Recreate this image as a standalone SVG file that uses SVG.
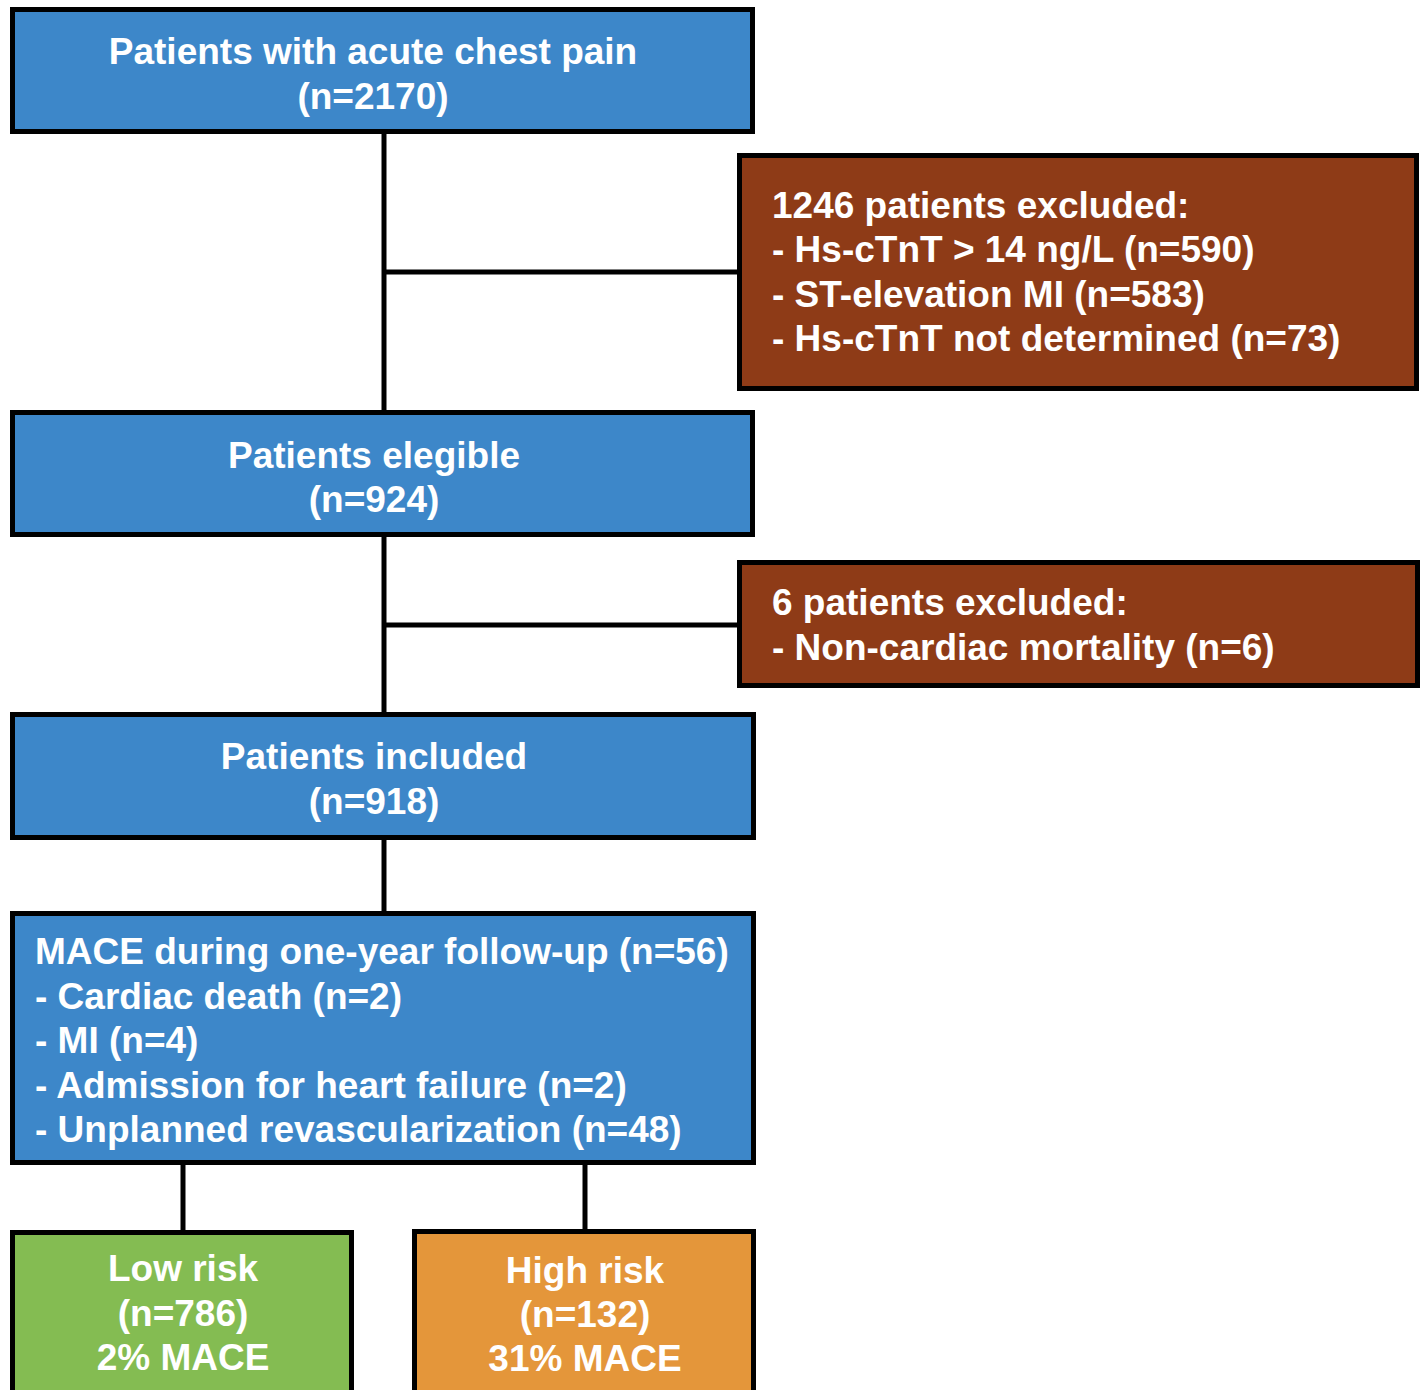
<svg xmlns="http://www.w3.org/2000/svg" width="1424" height="1390" viewBox="0 0 1424 1390">
<style>
.box{stroke:#000;stroke-width:5}
.blue{fill:#3D87C9}
.brown{fill:#8E3B17}
.green{fill:#84BC52}
.orange{fill:#E4963A}
text{font-family:"Liberation Sans",Arial,sans-serif;font-weight:bold;font-size:37px;fill:#fff}
.c{text-anchor:middle}
.conn{stroke:#000;stroke-width:5;fill:none}
</style>
<rect width="1424" height="1390" fill="#fff"/>
<g id="connectors">
<line class="conn" x1="384" y1="134" x2="384" y2="410"/>
<line class="conn" x1="384" y1="272" x2="738" y2="272"/>
<line class="conn" x1="384" y1="537" x2="384" y2="712"/>
<line class="conn" x1="384" y1="625" x2="738" y2="625"/>
<line class="conn" x1="384" y1="840" x2="384" y2="911"/>
<line class="conn" x1="183" y1="1165" x2="183" y2="1231"/>
<line class="conn" x1="585" y1="1165" x2="585" y2="1230"/>
</g>
<g id="n1">
<rect class="box blue" x="12.5" y="9.5" width="740" height="122"/>
<text class="c" x="373" y="64">Patients with acute chest pain</text>
<text class="c" x="373" y="109">(n=2170)</text>
</g>
<g id="ex1">
<rect class="box brown" x="739.5" y="155.5" width="677" height="233"/>
<text x="772" y="218">1246 patients excluded:</text>
<text x="772" y="262">- Hs-cTnT &gt; 14 ng/L (n=590)</text>
<text x="772" y="307">- ST-elevation MI (n=583)</text>
<text x="772" y="351">- Hs-cTnT not determined (n=73)</text>
</g>
<g id="n2">
<rect class="box blue" x="12.5" y="412.5" width="740" height="122"/>
<text class="c" x="374" y="468">Patients elegible</text>
<text class="c" x="374" y="512">(n=924)</text>
</g>
<g id="ex2">
<rect class="box brown" x="739.5" y="562.5" width="678" height="123"/>
<text x="772" y="615">6 patients excluded:</text>
<text x="772" y="660">- Non-cardiac mortality (n=6)</text>
</g>
<g id="n3">
<rect class="box blue" x="12.5" y="714.5" width="741" height="123"/>
<text class="c" x="374" y="769">Patients included</text>
<text class="c" x="374" y="814">(n=918)</text>
</g>
<g id="n4">
<rect class="box blue" x="12.5" y="913.5" width="741" height="249"/>
<text x="35" y="964">MACE during one-year follow-up (n=56)</text>
<text x="35" y="1009">- Cardiac death (n=2)</text>
<text x="35" y="1053">- MI (n=4)</text>
<text x="35" y="1098">- Admission for heart failure (n=2)</text>
<text x="35" y="1142">- Unplanned revascularization (n=48)</text>
</g>
<g id="low">
<rect class="box green" x="12.5" y="1232.5" width="339" height="170"/>
<text class="c" x="183" y="1281">Low risk</text>
<text class="c" x="183" y="1326">(n=786)</text>
<text class="c" x="183" y="1370">2% MACE</text>
</g>
<g id="high">
<rect class="box orange" x="414.5" y="1231.5" width="339" height="170"/>
<text class="c" x="585" y="1283">High risk</text>
<text class="c" x="585" y="1327">(n=132)</text>
<text class="c" x="585" y="1371">31% MACE</text>
</g>
</svg>
